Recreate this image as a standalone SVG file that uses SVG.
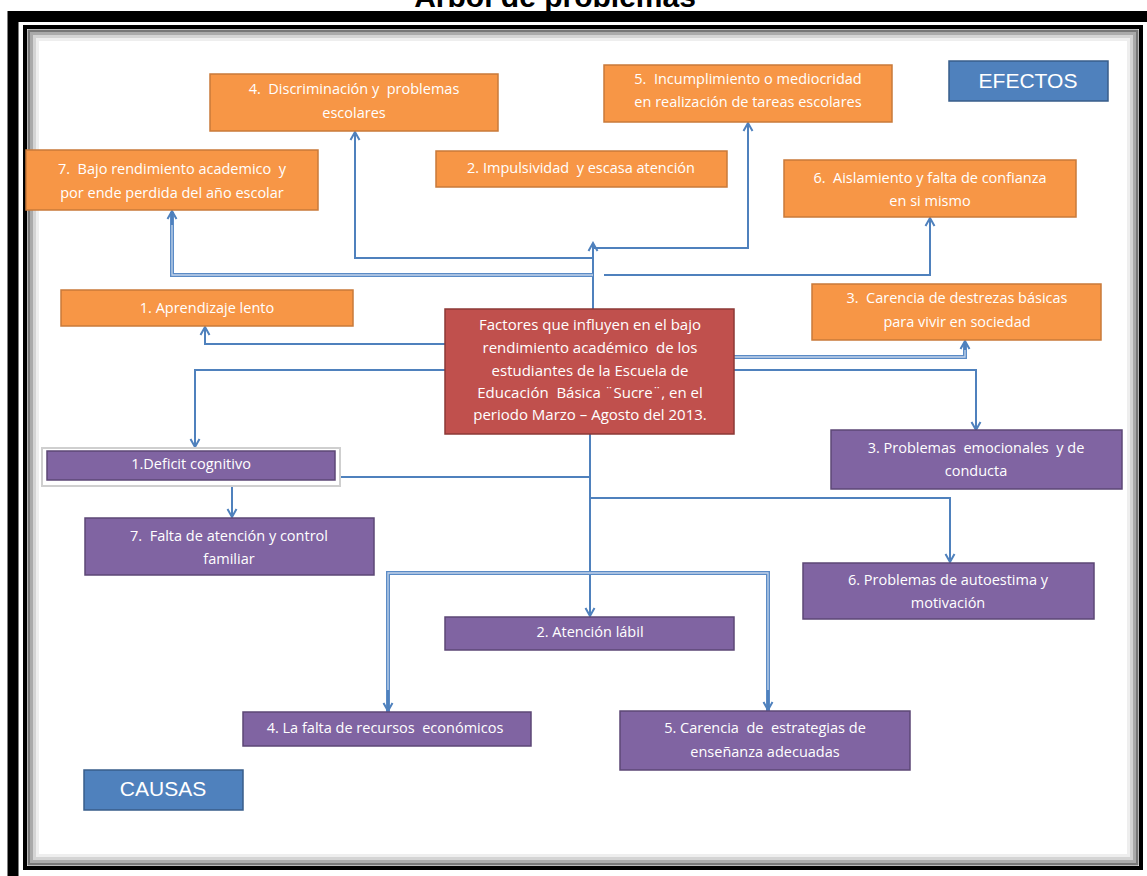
<svg xmlns="http://www.w3.org/2000/svg" width="1147" height="876" viewBox="0 0 1147 876">
<style>
.t{font-family:"Open Sans","Liberation Sans",Arial,sans-serif;font-size:14.5px;fill:#fff;text-anchor:middle;white-space:pre}
.c{font-family:"Open Sans","Liberation Sans",Arial,sans-serif;font-size:15px;fill:#fff;text-anchor:middle;white-space:pre}
.lbl{font-family:"Liberation Sans",Arial,sans-serif;font-size:21px;fill:#fff;text-anchor:middle}
.eff{fill:#F79646;stroke:#C97A3A;stroke-width:1.5}
.cau{fill:#8064A2;stroke:#5C4776;stroke-width:1.5}
.blu{fill:#4F81BD;stroke:#385D8A;stroke-width:1.5}
.ln{fill:none;stroke:#4F81BD;stroke-width:2}
.dl{fill:none;stroke:#5B8BC6;stroke-width:4}
.dli{fill:none;stroke:#C3D4EA;stroke-width:1.3}
</style>
<defs>
<marker id="ar" markerWidth="12" markerHeight="12" refX="10" refY="6" orient="auto" markerUnits="userSpaceOnUse">
<path d="M2,1.5 L10,6 L2,10.5" fill="none" stroke="#4F81BD" stroke-width="2"/>
</marker>
</defs>
<rect x="0" y="0" width="1147" height="876" fill="#fff"/>
<text x="555" y="7" font-family="Liberation Sans,Arial,sans-serif" font-weight="bold" font-size="30" text-anchor="middle" fill="#000">Arbol de problemas</text>
<g id="frame">
<rect x="13" y="16.5" width="1140" height="870" fill="none" stroke="#000" stroke-width="11"/>
<rect x="25" y="27" width="1116" height="841" fill="none" stroke="#000" stroke-width="4"/>
<rect x="29" y="31" width="1108" height="833" fill="none" stroke="#777" stroke-width="3"/>
<rect x="31.5" y="33.5" width="1103" height="828" fill="none" stroke="#aaa" stroke-width="3"/>
<rect x="34.5" y="36.5" width="1097" height="822" fill="none" stroke="#d4d4d4" stroke-width="3"/>
<rect x="37.5" y="39.5" width="1091" height="816" fill="none" stroke="#eee" stroke-width="3"/>
</g>
<g id="connectors">
<path class="ln" d="M593,309 V243" marker-end="url(#ar)"/>
<path class="ln" d="M593,248 H748 V123" marker-end="url(#ar)"/>
<path class="ln" d="M593,258 H355 V132" marker-end="url(#ar)"/>
<path class="dl" d="M593,275 H172 V212"/>
<path class="dli" d="M593,275 H172 V212"/>
<path class="ln" d="M172,225 V211" marker-end="url(#ar)"/>
<path class="ln" d="M604,275 H930 V218" marker-end="url(#ar)"/>
<path class="ln" d="M445,344 H205 V327" marker-end="url(#ar)"/>
<path class="ln" d="M445,370 H195 V447" marker-end="url(#ar)"/>
<path class="dl" d="M734,357 H965 V344"/>
<path class="dli" d="M734,357 H965 V344"/>
<path class="ln" d="M965,350 V341" marker-end="url(#ar)"/>
<path class="ln" d="M734,370 H976 V430" marker-end="url(#ar)"/>
<path class="ln" d="M590,434 V616" marker-end="url(#ar)"/>
<path class="ln" d="M590,477 H232 V517" marker-end="url(#ar)"/>
<path class="ln" d="M590,498 H950 V562" marker-end="url(#ar)"/>
<path class="dl" d="M388,712 V573 H768 V711"/>
<path class="dli" d="M388,712 V573 H768 V711"/>
<path class="ln" d="M388,690 V711" marker-end="url(#ar)"/>
<path class="ln" d="M768,690 V710" marker-end="url(#ar)"/>
</g>
<g id="efectos">
<rect class="blu" x="949" y="61" width="159" height="40"/>
<text class="lbl" x="1028" y="88">EFECTOS</text>
</g>
<g id="e4">
<rect class="eff" x="210" y="74" width="288" height="57"/>
<text class="t" x="354" y="94">4.  Discriminación y  problemas</text>
<text class="t" x="354" y="118">escolares</text>
</g>
<g id="e5">
<rect class="eff" x="604" y="65" width="288" height="57"/>
<text class="t" x="748" y="84">5.  Incumplimiento o mediocridad</text>
<text class="t" x="748" y="107">en realización de tareas escolares</text>
</g>
<g id="e2">
<rect class="eff" x="436" y="151" width="291" height="36"/>
<text class="t" x="581" y="173">2. Impulsividad  y escasa atención</text>
</g>
<g id="e7">
<rect class="eff" x="26" y="150" width="292" height="60"/>
<text class="t" x="172" y="174">7.  Bajo rendimiento academico  y</text>
<text class="t" x="172" y="198">por ende perdida del año escolar</text>
</g>
<g id="e6">
<rect class="eff" x="784" y="160" width="292" height="57"/>
<text class="t" x="930" y="183">6.  Aislamiento y falta de confianza</text>
<text class="t" x="930" y="206">en si mismo</text>
</g>
<g id="e1">
<rect class="eff" x="61" y="290" width="292" height="36"/>
<text class="t" x="207" y="313">1. Aprendizaje lento</text>
</g>
<g id="e3">
<rect class="eff" x="812" y="284" width="289" height="56"/>
<text class="t" x="957" y="303">3.  Carencia de destrezas básicas</text>
<text class="t" x="957" y="327">para vivir en sociedad</text>
</g>
<g id="central">
<rect x="445" y="309" width="289" height="125" fill="#C0504D" stroke="#8C3836" stroke-width="1.5"/>
<text class="c" x="590" y="330">Factores que influyen en el bajo</text>
<text class="c" x="590" y="353">rendimiento académico  de los</text>
<text class="c" x="590" y="376">estudiantes de la Escuela de</text>
<text class="c" x="590" y="398">Educación  Básica ¨Sucre¨, en el</text>
<text class="c" x="590" y="420">periodo Marzo – Agosto del 2013.</text>
</g>
<g id="c1">
<rect x="42" y="448" width="298" height="38" fill="#fff" stroke="#cfcfcf" stroke-width="2"/>
<rect class="cau" x="47" y="451" width="288" height="29"/>
<text class="t" x="191" y="469">1.Deficit cognitivo</text>
</g>
<g id="c7">
<rect class="cau" x="85" y="518" width="289" height="57"/>
<text class="t" x="229" y="541">7.  Falta de atención y control</text>
<text class="t" x="229" y="564">familiar</text>
</g>
<g id="c3">
<rect class="cau" x="831" y="430" width="291" height="59"/>
<text class="t" x="976" y="453">3. Problemas  emocionales  y de</text>
<text class="t" x="976" y="476">conducta</text>
</g>
<g id="c6">
<rect class="cau" x="803" y="563" width="291" height="56"/>
<text class="t" x="948" y="585">6. Problemas de autoestima y</text>
<text class="t" x="948" y="608">motivación</text>
</g>
<g id="c2">
<rect class="cau" x="445" y="617" width="289" height="33"/>
<text class="t" x="590" y="637">2. Atención lábil</text>
</g>
<g id="c4">
<rect class="cau" x="243" y="712" width="288" height="34"/>
<text class="t" x="385" y="733">4. La falta de recursos  económicos</text>
</g>
<g id="c5">
<rect class="cau" x="620" y="711" width="290" height="59"/>
<text class="t" x="765" y="733">5. Carencia  de  estrategias de</text>
<text class="t" x="765" y="757">enseñanza adecuadas</text>
</g>
<g id="causas">
<rect class="blu" x="84" y="770" width="159" height="40"/>
<text class="lbl" x="163" y="796">CAUSAS</text>
</g>
</svg>
